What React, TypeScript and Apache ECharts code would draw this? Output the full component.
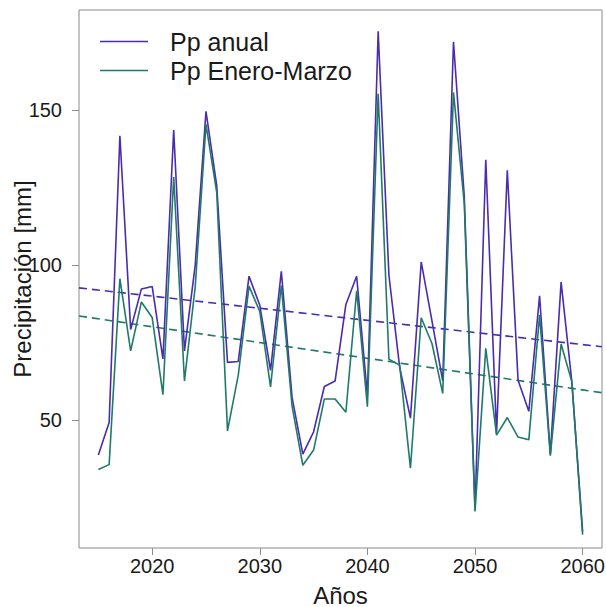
import React, { useEffect, useRef } from "react";
import * as echarts from "echarts";

const years: number[] = [];
for (let y = 2015; y <= 2060; y++) years.push(y);

const ppAnual = [
  38.7, 49.2, 141.7, 79.2, 92.3, 93.1, 69.7, 143.6, 72.3, 100,
  149.6, 125.6, 68.6, 68.9, 96.4, 87, 66, 98, 57.3, 39,
  46.2, 60.8, 62.6, 87.3, 96.4, 58, 175.4, 96.7, 67, 50.6,
  101, 82, 62.6, 172, 122.3, 21.2, 134, 45.6, 130.6, 62.8,
  52.8, 90.1, 39, 94.5, 62.3, 14,
];

const ppEneMar = [
  34, 35.6, 95.6, 72.3, 88.1, 83.1, 58.2, 128.4, 62.6, 93,
  145.4, 123.4, 46.5, 64.5, 93.2, 85, 60.7, 93.4, 54.5, 35.4,
  40.3, 56.8, 56.8, 52.5, 91.7, 54.3, 155.3, 69.6, 67.7, 34.5,
  83, 74.7, 58.6, 155.7, 120, 20.5, 73.1, 45.1, 50.8, 44.5,
  43.6, 83.9, 38.5, 74.5, 62.3, 13,
];

const xTicks = [2020, 2030, 2040, 2050, 2060];
const yTicks = [50, 100, 150];

const seriesNames = ["Pp anual", "Pp Enero-Marzo"];
const colors = ["#4a2cae", "#1f7a6a"];

const X_MIN = 2013.2;
const X_MAX = 2061.8;
const Y_MIN = 8.7;
const Y_MAX = 182.3;

function fit(xs: number[], ys: number[]) {
  const n = xs.length;
  const mx = xs.reduce((a, b) => a + b, 0) / n;
  const my = ys.reduce((a, b) => a + b, 0) / n;
  let sxy = 0;
  let sxx = 0;
  for (let i = 0; i < n; i++) {
    sxy += (xs[i] - mx) * (ys[i] - my);
    sxx += (xs[i] - mx) * (xs[i] - mx);
  }
  const b = sxy / sxx;
  const a = my - b * mx;
  return [
    [X_MIN, a + b * X_MIN],
    [X_MAX, a + b * X_MAX],
  ];
}

const FONT = "'Liberation Sans', Arial, Helvetica, sans-serif";

export default function App() {
  const ref = useRef<HTMLDivElement>(null);
  useEffect(() => {
    if (!ref.current) return;
    const chart = echarts.init(ref.current, undefined, { renderer: "svg" });
    const series: any[] = [];
    [ppAnual, ppEneMar].forEach((vals, i) => {
      series.push({
        name: seriesNames[i],
        type: "line",
        data: years.map((y, k) => [y, vals[k]]),
        symbol: "none",
        lineStyle: { color: colors[i], width: 1.6 },
        itemStyle: { color: colors[i] },
        z: 3 + i,
      });
    });
    [ppAnual, ppEneMar].forEach((vals, i) => {
      series.push({
        name: seriesNames[i] + " tendencia",
        type: "line",
        data: fit(years, vals),
        symbol: "none",
        silent: true,
        lineStyle: { color: colors[i], width: 1.6, type: [8, 5] },
        z: 2,
      });
    });
    chart.setOption({
      animation: false,
      backgroundColor: "#ffffff",
      grid: {
        left: 79,
        top: 10,
        right: 4,
        bottom: 59,
        containLabel: false,
        outerBoundsMode: "none",
        show: true,
        borderColor: "#8a8a8a",
        borderWidth: 1,
        backgroundColor: "transparent",
      },
      legend: {
        data: seriesNames,
        orient: "vertical",
        left: 100,
        top: 29,
        padding: 0,
        itemWidth: 48,
        itemHeight: 14,
        itemGap: 4,
        icon: "path://M0,6.5 L48,6.5 L48,8.1 L0,8.1 Z",
        textStyle: {
          fontFamily: FONT,
          fontSize: 25,
          color: "#1a1a1a",
          lineHeight: 25,
          padding: [0, 0, 0, 17],
        },
      },
      xAxis: {
        type: "value",
        min: X_MIN,
        max: X_MAX,
        name: "Años",
        nameLocation: "middle",
        nameGap: 35,
        nameMoveOverlap: false,
        nameTextStyle: { fontFamily: FONT, fontSize: 24, color: "#1a1a1a" },
        axisLine: { show: false },
        splitLine: { show: false },
        axisTick: {
          show: true,
          inside: false,
          length: 7,
          customValues: xTicks,
          lineStyle: { color: "#8a8a8a" },
        },
        axisLabel: {
          customValues: xTicks,
          formatter: (v: number) => String(Math.round(v)),
          margin: 8,
          fontFamily: FONT,
          fontSize: 20,
          color: "#1a1a1a",
        },
      },
      yAxis: {
        type: "value",
        min: Y_MIN,
        max: Y_MAX,
        name: "Precipitación [mm]",
        nameLocation: "middle",
        nameGap: 45,
        nameMoveOverlap: false,
        nameTextStyle: { fontFamily: FONT, fontSize: 24, color: "#1a1a1a" },
        axisLine: { show: false },
        splitLine: { show: false },
        axisTick: {
          show: true,
          inside: false,
          length: 7,
          customValues: yTicks,
          lineStyle: { color: "#8a8a8a" },
        },
        axisLabel: {
          customValues: yTicks,
          formatter: (v: number) => String(Math.round(v)),
          margin: 17,
          fontFamily: FONT,
          fontSize: 20,
          color: "#1a1a1a",
        },
      },
      series,
    });
    return () => chart.dispose();
  }, []);
  return (
    <div
      ref={ref}
      style={{ position: "fixed", left: 0, top: 0, width: 606, height: 607 }}
    />
  );
}
